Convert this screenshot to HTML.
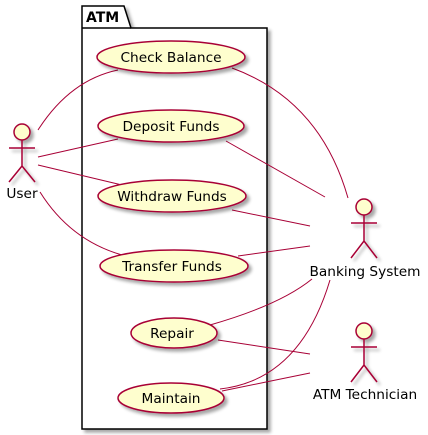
<!DOCTYPE html>
<html><head><meta charset="utf-8"><style>html,body{margin:0;padding:0;background:#fff}svg{display:block}</style></head>
<body>
<svg width="428" height="435" xmlns="http://www.w3.org/2000/svg" font-family="DejaVu Sans, sans-serif">
<defs><filter id="sh" x="-20%" y="-20%" width="150%" height="160%"><feGaussianBlur in="SourceAlpha" stdDeviation="1.5"/><feOffset dx="3" dy="3"/><feComponentTransfer><feFuncA type="linear" slope="0.35"/></feComponentTransfer><feMerge><feMergeNode/><feMergeNode in="SourceGraphic"/></feMerge></filter></defs>
<g filter="url(#sh)">
<path d="M82,28 L82,6 L124,6 L131,28 L267,28 L267,429 L82,429 Z" fill="#fff" stroke="#000" stroke-width="1.5"/>
</g>
<line x1="82" y1="28" x2="131" y2="28" stroke="#000" stroke-width="1.5"/>
<text x="86" y="22" font-size="14" font-weight="bold">ATM</text>
<g fill="none" stroke="#A80036" stroke-width="1">
<path d="M38,130 Q70,80 118,70"/>
<path d="M38,157 L118,139"/>
<path d="M38,165 L122,185"/>
<path d="M40,192 Q70,240 122,255"/>
<path d="M232,68 Q320,100 348,198"/>
<path d="M226,141 L325,197"/>
<path d="M232,210 L310,226"/>
<path d="M238,256 L310,246"/>
<path d="M210,325 Q280,305 312,279"/>
<path d="M218,340 L310,354"/>
<path d="M220,389 Q300,380 330,280"/>
<path d="M222,391 L310,373"/>
</g>
<g fill="#FEFECE" stroke="#A80036" stroke-width="1.5" filter="url(#sh)">
<ellipse cx="171" cy="57" rx="74" ry="16"/>
<ellipse cx="171" cy="126" rx="73" ry="16"/>
<ellipse cx="172" cy="196" rx="74" ry="16"/>
<ellipse cx="174" cy="266" rx="74" ry="16"/>
<ellipse cx="174" cy="333" rx="43" ry="15"/>
<ellipse cx="171" cy="398" rx="53" ry="15"/>
</g>
<g font-size="13.7" text-anchor="middle" fill="#000">
<text x="171" y="62">Check Balance</text>
<text x="171" y="131">Deposit Funds</text>
<text x="172" y="201">Withdraw Funds</text>
<text x="172" y="271">Transfer Funds</text>
<text x="172" y="338">Repair</text>
<text x="171" y="403">Maintain</text>
</g>
<g fill="#FEFECE" stroke="#A80036" stroke-width="1.5" filter="url(#sh)">
<g><circle cx="22" cy="132" r="8"/><path d="M22,140 V166 M9,148 H35 M22,166 L9,182 M22,166 L35,182" fill="none"/></g>
<g><circle cx="364" cy="207" r="8"/><path d="M364,215 V241 M351,223 H377 M364,241 L351,258 M364,241 L377,258" fill="none"/></g>
<g><circle cx="364" cy="331" r="8"/><path d="M364,339 V365 M351,347 H377 M364,365 L351,382 M364,365 L377,382" fill="none"/></g>
</g>
<g font-size="13.7" text-anchor="middle" fill="#000">
<text x="22" y="198">User</text>
<text x="365" y="276">Banking System</text>
<text x="365" y="399">ATM Technician</text>
</g>
</svg>
</body></html>
